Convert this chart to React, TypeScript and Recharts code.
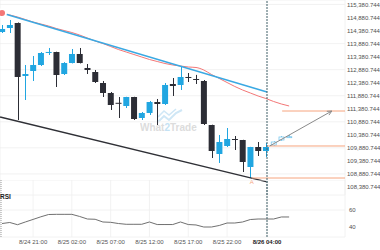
import React from "react";
import {
    ComposedChart,
    Bar,
    Line,
    XAxis,
    YAxis,
    CartesianGrid,
    ReferenceLine,
    ReferenceDot,
} from "recharts";

// hourly candles, the last three are the projected ones
const opens = [114326, 114479, 114671, 112638, 112830, 113060, 113540, 113558, 112714, 113136, 113482, 112945, 112791, 112369, 111986, 111610, 111487, 111832, 111027, 111219, 111640, 111564, 112331, 112293, 112600, 112523, 112446, 110758, 109646, 109953, 110221, 110183, 109147, 109914, 109761, 109991, 110183, 110290];
const highs = [114594, 114786, 114690, 113060, 113405, 113558, 113712, 113570, 113170, 113673, 113712, 113098, 112868, 112446, 112024, 111832, 111840, 111840, 111257, 111679, 111756, 112369, 112561, 112983, 112752, 112680, 112484, 110770, 110375, 110643, 110336, 110190, 109920, 110106, 110068, 110140, 110336, 110375];
const lows = [114287, 114287, 110950, 111717, 112446, 113021, 113443, 112216, 112676, 113120, 113120, 112714, 112369, 111832, 111334, 111027, 111410, 110950, 110950, 111142, 110758, 111525, 111871, 112101, 112408, 112331, 110758, 109492, 109301, 109914, 109799, 108955, 108725, 109569, 109531, 109960, 110150, 110260];
const closes = [114441, 114594, 112600, 112714, 113060, 113520, 113560, 112676, 113136, 113482, 113136, 112868, 112408, 111986, 111525, 111595, 111832, 110988, 111219, 111640, 111564, 112293, 112254, 112600, 112570, 112500, 110797, 109761, 110106, 110221, 110200, 109339, 109914, 109761, 109914, 110106, 110298, 110310];
const maValues = [115054, 114978, 114901, 114805, 114709, 114632, 114556, 114460, 114383, 114306, 114210, 114095, 113980, 113884, 113769, 113654, 113558, 113462, 113366, 113271, 113194, 113117, 113060, 113021, 112983, 112964, 112868, 112695, 112542, 112388, 112235, 112101, 111986, 111871, 111775, 111660, 111564, 111487];
const rsiValues = [44.1, 45.3, 42.7, 45.9, 48.9, 52.0, 54.7, 54.9, 54.9, 54.9, 52.4, 49.4, 49.1, 45.9, 45.5, 44.1, 43.2, 43.2, 43.2, 45.9, 42.9, 42.9, 42.9, 45.9, 42.9, 42.4, 40, 40, 41.8, 44.7, 44.7, 45.9, 48.8, 49.4, 49.4, 49.4, 51.8, 51.8];
const liveCount = 35;

const priceTicks = [108380.744, 108880.744, 109380.744, 109880.744, 110380.744, 110880.744, 111380.744, 111880.744, 112380.744, 112880.744, 113380.744, 113880.744, 114380.744, 114880.744, 115380.744];
const rsiTicks = [40, 60];
const timeTicks = [4, 9, 14, 19, 24, 29, 34.15];
const timeLabels = ["8/24 21:00", "8/25 02:00", "8/25 07:00", "8/25 12:00", "8/25 17:00", "8/25 22:00", "8/26 04:00"];
const nowIndex = 34.15;

// drawn lines (index, price)
const resistance = [{ i: -0.25, price: 115074 }, { i: 34.15, price: 112024 }];
const support = [{ i: -0.25, price: 111065 }, { i: 34.15, price: 108572 }];
const levelPrices = [111295, 109953, 108725];
const levelStarts = [36.1, 34.15, 32.2];
const levelEnd = 44.2;
const arrowPath = [{ i: 34.5, price: 109953 }, { i: 42.5, price: 111295 }];

const rows = opens.map((open, i) => ({
    i,
    open,
    high: highs[i],
    low: lows[i],
    close: closes[i],
    range: [lows[i], highs[i]],
    ma: maValues[i],
    rsi: rsiValues[i],
    future: i >= liveCount,
}));

const xDomain = [-0.26, 44.2];
const font = "'Liberation Sans', Arial, sans-serif";
const tickStyle = { fontSize: 6, fill: "#505050", fontFamily: font };

function Candle(props: any) {
    const { x, y, width, height, payload } = props;
    if (!payload || height == null) return null;
    const { open, close, high, low, future } = payload;
    const toY = (v: number) => y + ((high - v) / (high - low)) * height;
    const cx = Math.round(x + width / 2) + 0.5;
    const top = toY(Math.max(open, close));
    const bodyH = Math.max(toY(Math.min(open, close)) - top, 1);
    if (future) {
        return (
            <g>
                <line x1={cx} x2={cx} y1={y} y2={y + height} stroke="#7cc8ee" />
                <rect x={x + 0.5} y={top} width={width - 1} height={bodyH} fill="#fff" stroke="#7cc8ee" strokeWidth={0.8} />
            </g>
        );
    }
    const color = close >= open ? "#21a6e1" : "#2c2d35";
    return (
        <g>
            <line x1={cx} x2={cx} y1={y} y2={y + height} stroke={color} />
            <rect x={x} y={top} width={width} height={bodyH} fill={color} />
        </g>
    );
}

function Arrow(props: any) {
    const { x1, y1, x2, y2 } = props;
    const ang = Math.atan2(y2 - y1, x2 - x1);
    const len = 5;
    const p = (a: number) => `${x2 + len * Math.cos(a)},${y2 + len * Math.sin(a)}`;
    return (
        <g>
            <line x1={x1} y1={y1} x2={x2} y2={y2} stroke="#8a8a8a" strokeWidth={1} />
            <polyline points={`${p(ang + Math.PI - 0.45)} ${x2},${y2} ${p(ang + Math.PI + 0.45)}`} fill="none" stroke="#8a8a8a" />
        </g>
    );
}

function TimeTick(props: any) {
    const { x, y, payload, index } = props;
    const isNow = index === timeTicks.length - 1;
    return (
        <text x={x} y={y} dy="0.71em" textAnchor="middle" fontSize={6} fontFamily={font} fill={isNow ? "#222" : "#555"} fontWeight={isNow ? "bold" : "normal"}>
            {timeLabels[index] ?? payload.value}
        </text>
    );
}

export default function App() {
    return (
        <div style={{ position: "relative", width: 380, height: 250, background: "#fff", overflow: "hidden", fontFamily: font }}>
            <style>{"body{margin:0}"}</style>
            {/* watermark */}
            <div style={{ position: "absolute", left: 140, top: 106 }}>
                <svg width={60} height={28} style={{ display: "block" }}>
                    <polyline points="18,16 24,10 29,14 36,7 42,4" fill="none" stroke="#cfe7f6" strokeWidth={2} />
                    <polyline points="18,11 24,5 29,9 36,3" fill="none" stroke="#cfe7f6" strokeWidth={1.5} />
                    <text x={0} y={25} fontSize={10} fontWeight="bold" fontFamily={font} fill="#dcdcdc">
                        What<tspan fill="#c4e2f4">2</tspan>Trade
                    </text>
                </svg>
            </div>

            <ComposedChart width={380} height={196} data={rows} margin={{ top: 0, right: 0, bottom: 0, left: 0 }} style={{ position: "absolute", top: 0, left: 0 }}>
                <CartesianGrid stroke="#efefef" strokeWidth={0.8} />
                <XAxis type="number" dataKey="i" domain={xDomain} ticks={timeTicks} allowDataOverflow tick={false} axisLine={false} tickLine={false} height={1} />
                <YAxis
                    orientation="right"
                    type="number"
                    domain={[108073, 115553]}
                    allowDataOverflow
                    ticks={priceTicks}
                    tickFormatter={(v: number) => v.toLocaleString("en-US", { minimumFractionDigits: 3, maximumFractionDigits: 3 })}
                    tick={tickStyle}
                    axisLine={false}
                    tickLine={false}
                    tickSize={0}
                    tickMargin={2}
                    width={35}
                />
                <Bar dataKey="range" barSize={6} shape={<Candle />} isAnimationActive={false} />
                <Line dataKey="ma" type="monotone" stroke="#f37777" strokeWidth={1} dot={false} isAnimationActive={false} />
                <ReferenceLine segment={resistance.map((p) => ({ x: p.i, y: p.price }))} stroke="#3aa9e3" strokeWidth={1.5} ifOverflow="visible" />
                <ReferenceLine segment={support.map((p) => ({ x: p.i, y: p.price }))} stroke="#2f3036" strokeWidth={1.3} ifOverflow="visible" />
                {levelPrices.map((price, k) => (
                    <ReferenceLine key={k} segment={[{ x: levelStarts[k], y: price }, { x: levelEnd, y: price }]} stroke="#f6a47e" strokeWidth={1} ifOverflow="visible" />
                ))}
                <ReferenceDot x={levelStarts[2]} y={levelPrices[2]} r={0} fill="none" stroke="none" ifOverflow="visible"
                    label={{ value: "A", position: "bottom", offset: 2, fill: "#f6a47e", fontSize: 6, fontFamily: font }} />
                <ReferenceLine segment={arrowPath.map((p) => ({ x: p.i, y: p.price }))} shape={Arrow} ifOverflow="visible" />
                <ReferenceLine x={nowIndex} stroke="#3f5f66" strokeDasharray="2 1" strokeWidth={1} />
            </ComposedChart>

            <ComposedChart width={380} height={70} data={rows} margin={{ top: 0, right: 0, bottom: 0, left: 0 }} style={{ position: "absolute", top: 180, left: 0 }}>
                <CartesianGrid stroke="#efefef" strokeWidth={0.8} />
                <XAxis
                    type="number"
                    dataKey="i"
                    domain={xDomain}
                    allowDataOverflow
                    ticks={timeTicks}
                    tick={<TimeTick />}
                    axisLine={false}
                    tickLine={false}
                    tickSize={0}
                    tickMargin={3}
                    height={13}
                    interval={0}
                />
                <YAxis
                    orientation="right"
                    type="number"
                    domain={[28.24, 95.29]}
                    allowDataOverflow
                    ticks={rsiTicks}
                    tick={tickStyle}
                    axisLine={false}
                    tickLine={false}
                    tickSize={0}
                    tickMargin={4}
                    width={35}
                />
                <Line dataKey="rsi" type="linear" stroke="#707070" strokeWidth={1} dot={false} isAnimationActive={false} />
                <ReferenceLine x={-0.13} stroke="#999" strokeDasharray="1 1" />
                <ReferenceLine x={nowIndex} stroke="#3f5f66" strokeDasharray="2 1" strokeWidth={1} />
            </ComposedChart>

            <span style={{ position: "absolute", left: 0, top: 194, fontSize: 6.5, fontWeight: "bold", color: "#222", lineHeight: 1 }}>RSI</span>
        </div>
    );
}
